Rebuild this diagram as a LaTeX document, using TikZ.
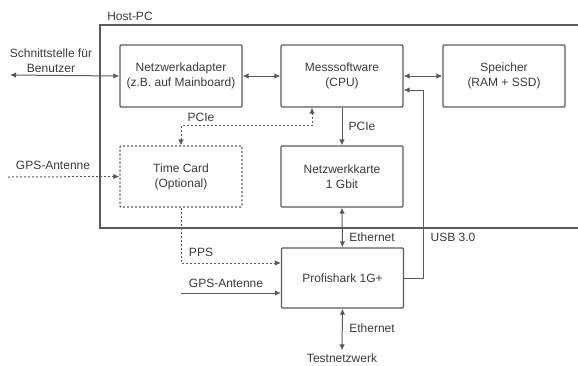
\documentclass[tikz,border=0pt]{standalone}
\usepackage{fontspec}
\setmainfont{Liberation Sans}
\usetikzlibrary{arrows.meta,calc}
\definecolor{ln}{HTML}{5A5A5A}
\definecolor{tx}{HTML}{3A3A3A}
\tikzset{
  box/.style={draw=ln, line width=1.2pt, rounded corners=1pt, minimum width=122pt, minimum height=62pt, align=center, text=tx, font=\fontsize{12}{15}\selectfont, inner sep=0pt},
  lbl/.style={text=tx, font=\fontsize{12}{15}\selectfont, align=center, inner sep=0pt},
  con/.style={draw=ln, line width=1pt},
  dots/.style={dash pattern=on 2pt off 2pt},
  tip/.style={-{Latex[length=6pt,width=5.5pt]}},
  tips/.style={{Latex[length=6pt,width=5.5pt]}-{Latex[length=6pt,width=5.5pt]}}
}
\begin{document}
\begin{tikzpicture}[x=1pt,y=-1pt]
\useasboundingbox (0,0) rectangle (578,365);
% Host-PC frame
\draw[ln, line width=1.1pt] (580,25) -| (100,228) -- (580,228);
\node[lbl] (host) at (130,16) {Host-PC};

\node[box] (na) at (181,76) {Netzwerkadapter\\(z.B. auf Mainboard)};
\node[box] (ms) at (342,76) {Messsoftware\\(CPU)};
\node[box] (sp) at (504,76) {Speicher\\(RAM + SSD)};
\node[box, dots, minimum height=61pt] (tc) at (181,176.5) {Time Card\\(Optional)};
\node[box, minimum height=61pt] (nk) at (342,176.5) {Netzwerkkarte\\1 Gbit};
\node[box, minimum height=60pt] (ps) at (342.5,278) {Profishark 1G+};

\coordinate (user) at (10,75);
\coordinate (gpsa) at (8,177);
\coordinate (gpsb) at (181,293);
\node[lbl] (test) at (342,358) {Testnetzwerk};

% connectors
\draw[con, tips] (user) -- (na.west);
\node[lbl] (userlbl) at (51,60.5) {Schnittstelle für\\Benutzer};
\draw[con, tips] (na.east) -- (ms.west);
\draw[con, tips] (ms.east) -- (sp.west);

\draw[con, dots, tips] (tc.north) |- ($(ms.south)+(-30,18)$) -- ($(ms.south)+(-30,0)$);
\node[lbl] (pcie1) at (201,117) {PCIe};

\draw[con, tip] (ms.south) -- (nk.north);
\node[lbl] (pcie2) at (362,126) {PCIe};

\draw[con, dots, tip] (gpsa) -- (tc.west);
\node[lbl] (gpsalbl) at (53,165) {GPS-Antenne};

\draw[con, dots, tip] (tc.south) |- ($(ps.west)+(0,-15)$);
\node[lbl] (ppslbl) at (201,252) {PPS};

\draw[con, tip] (gpsb) -- ($(ps.west)+(0,15)$);
\node[lbl] (gpsblbl) at (226,283) {GPS-Antenne};

\draw[con, tips] (nk.south) -- (ps.north);
\node[lbl] (eth1) at (372,237) {Ethernet};

\draw[con, tip] (ps.east) -- (423,278) |- ($(ms.east)+(0,14)$);
\node[lbl] (usb) at (453,237) {USB 3.0};

\draw[con, tips] (ps.south) -- ($(test.north)+(0,-3)$);
\node[lbl] (eth2) at (372,328) {Ethernet};
\end{tikzpicture}
\end{document}
